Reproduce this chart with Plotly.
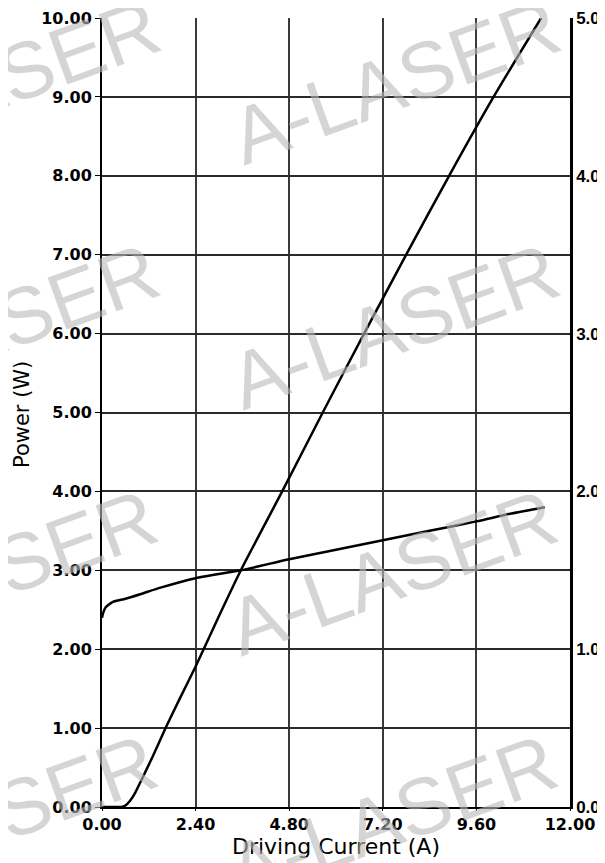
import plotly.graph_objects as go

# Optical power curve (left axis, W)
current_p = [0.0, 0.3, 0.5, 0.6, 0.72, 0.85, 1.0, 1.3, 1.63, 2.0, 2.4, 3.0, 3.56, 4.62, 5.66, 6.72, 7.8, 8.9, 10.04, 11.26]
power = [0.0, 0.0, 0.0, 0.02, 0.08, 0.18, 0.33, 0.64, 1.0, 1.38, 1.78, 2.42, 3.0, 4.0, 5.0, 6.0, 7.0, 8.0, 9.0, 10.0]

# Second curve (right axis)
current_v = [0.0, 0.03, 0.08, 0.16, 0.28, 0.6, 1.0, 1.5, 2.4, 3.56, 4.8, 6.0, 7.2, 8.4, 9.6, 10.5, 11.35]
voltage = [1.20, 1.23, 1.26, 1.28, 1.30, 1.32, 1.35, 1.39, 1.45, 1.50, 1.57, 1.63, 1.69, 1.75, 1.81, 1.86, 1.90]

x_ticks = [0.0, 2.4, 4.8, 7.2, 9.6, 12.0]
x_tick_labels = ["0.00", "2.40", "4.80", "7.20", "9.60", "12.00"]
y_ticks = [0, 1, 2, 3, 4, 5, 6, 7, 8, 9, 10]
y_tick_labels = ["0.00", "1.00", "2.00", "3.00", "4.00", "5.00", "6.00", "7.00", "8.00", "9.00", "10.00"]
y2_ticks = [0, 1, 2, 3, 4, 5]
y2_tick_labels = ["0.0", "1.0", "2.0", "3.0", "4.0", "5.0"]

x_title = "Driving Current (A)"
y_title = "Power (W)"

watermark = "A-LASER"
# watermark centres in page pixel coordinates
wm_px = [(395, 81), (394, 326), (392, 572), (392, 817),
         (-5, 81), (-6, 326), (-8, 572), (-8, 817)]

OFF = 8  # default body margin of the html page
W, H = 605 - OFF, 863 - OFF
L, R, T, B = 102 - OFF, 35, 18 - OFF, 56
pw, ph = W - L - R, H - T - B


def px_to_paper(px, py):
    return (px - OFF - L) / pw, (OFF + H - B - py) / ph


fig = go.Figure()
fig.add_trace(go.Scatter(x=current_p, y=power, mode="lines",
                         line=dict(color="black", width=2.5, shape="spline", smoothing=0.6),
                         showlegend=False))
fig.add_trace(go.Scatter(x=current_v, y=voltage, mode="lines", yaxis="y2",
                         line=dict(color="black", width=2.5, shape="spline", smoothing=0.6),
                         showlegend=False))

tickfont = dict(family="DejaVu Sans", size=16, color="black", weight="bold")

fig.update_layout(
    width=W, height=H,
    margin=dict(l=L, r=R, t=T, b=B, pad=0, autoexpand=False),
    paper_bgcolor="white", plot_bgcolor="white",
    xaxis=dict(range=[0, 12], tickvals=x_ticks, ticktext=x_tick_labels,
               showgrid=True, gridcolor="#3a3a3a", gridwidth=1.6,
               showline=True, linecolor="black", linewidth=2,
               ticks="outside", ticklen=2, tickcolor="black",
               tickfont=tickfont, zeroline=False, automargin=False),
    yaxis=dict(range=[0, 10], tickvals=y_ticks, ticktext=y_tick_labels,
               showgrid=True, gridcolor="#2a2a2a", gridwidth=1.6,
               showline=True, linecolor="black", linewidth=2,
               ticks="outside", ticklen=5, tickcolor="black",
               tickfont=tickfont, zeroline=False, automargin=False),
    yaxis2=dict(range=[0, 5], tickvals=y2_ticks, ticktext=y2_tick_labels,
                overlaying="y", side="right", showgrid=False,
                showline=True, linecolor="black", linewidth=2.5,
                ticks="", tickcolor="black",
                tickfont=dict(family="Liberation Sans", size=17, color="black", weight="bold"),
                zeroline=False, automargin=False),
)

xt = px_to_paper(336, 846)
fig.add_annotation(x=xt[0], y=xt[1], xref="paper", yref="paper", text=x_title,
                   showarrow=False, xanchor="center", yanchor="middle",
                   font=dict(family="DejaVu Sans", size=22, color="black"))
yt = px_to_paper(22, 415)
fig.add_annotation(x=yt[0], y=yt[1], xref="paper", yref="paper", text=y_title,
                   showarrow=False, xanchor="center", yanchor="middle", textangle=-90,
                   font=dict(family="DejaVu Sans", size=21, color="black"))

for (px, py) in wm_px:
    wx, wy = px_to_paper(px, py)
    fig.add_annotation(x=wx, y=wy, xref="paper", yref="paper",
                       text=watermark, showarrow=False, textangle=-20,
                       xanchor="center", yanchor="middle",
                       font=dict(family="Liberation Sans", size=80,
                                 color="rgba(185,185,185,0.6)"))

fig.write_html("out.html")
